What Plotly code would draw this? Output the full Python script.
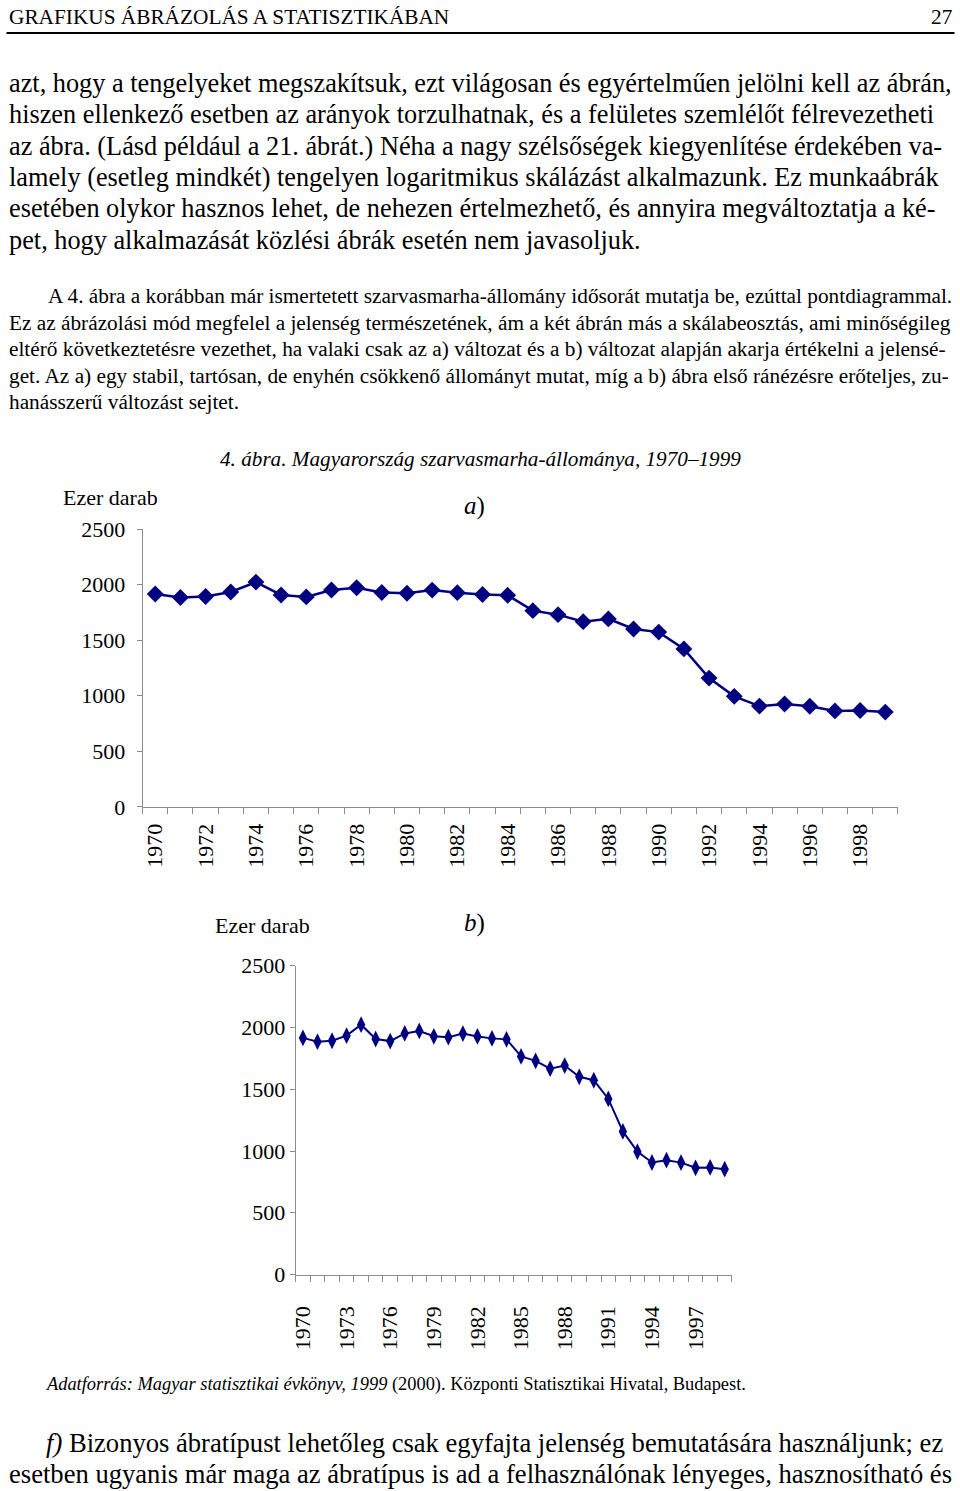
import plotly.graph_objects as go

W, H = 960, 1491

# ---------------- data ----------------
years = list(range(1970, 2000))
cattle = [1916, 1885, 1893, 1934, 2023, 1907, 1890, 1952, 1972, 1929,
          1922, 1951, 1928, 1912, 1904, 1766, 1730, 1667, 1692, 1601,
          1573, 1422, 1159, 995, 907, 926, 906, 864, 867, 853]
y_ticks = [0, 500, 1000, 1500, 2000, 2500]
x_labels_a = [str(y) for y in range(1970, 2000, 2)]
x_labels_b = [str(y) for y in range(1970, 2000, 3)]

header_left = "GRAFIKUS ÁBRÁZOLÁS A STATISZTIKÁBAN"
header_right = "27"
para1 = [
    "azt, hogy a tengelyeket megszakítsuk, ezt világosan és egyértelműen jelölni kell az ábrán,",
    "hiszen ellenkező esetben az arányok torzulhatnak, és a felületes szemlélőt félrevezetheti",
    "az ábra. (Lásd például a 21. ábrát.) Néha a nagy szélsőségek kiegyenlítése érdekében va-",
    "lamely (esetleg mindkét) tengelyen logaritmikus skálázást alkalmazunk. Ez munkaábrák",
    "esetében olykor hasznos lehet, de nehezen értelmezhető, és annyira megváltoztatja a ké-",
    "pet, hogy alkalmazását közlési ábrák esetén nem javasoljuk.",
]
para2 = [
    "A 4. ábra a korábban már ismertetett szarvasmarha-állomány idősorát mutatja be, ezúttal pontdiagrammal.",
    "Ez az ábrázolási mód megfelel a jelenség természetének, ám a két ábrán más a skálabeosztás, ami minőségileg",
    "eltérő következtetésre vezethet, ha valaki csak az a) változat és a b) változat alapján akarja értékelni a jelensé-",
    "get. Az a) egy stabil, tartósan, de enyhén csökkenő állományt mutat, míg a b) ábra első ránézésre erőteljes, zu-",
    "hanásszerű változást sejtet.",
]
fig_title = "<i>4. ábra. Magyarország szarvasmarha-állománya, 1970–1999</i>"
unit_label = "Ezer darab"
source_text = ("<i>Adatforrás: Magyar statisztikai évkönyv, 1999</i> (2000). "
               "Központi Statisztikai Hivatal, Budapest.")
para3 = [
    "<i>f)</i> Bizonyos ábratípust lehetőleg csak egyfajta jelenség bemutatására használjunk; ez",
    "esetben ugyanis már maga az ábratípus is ad a felhasználónak lényeges, hasznosítható és",
]

FONT = "Liberation Serif, Times New Roman, serif"
NAVY = "#000080"
GREY = "#8c8c8c"

# measured placement of the figure inside the photographed page
SY, OFF_Y = 0.984, 12.5
OFF_X = 2.5
ANN_X = 3.0


def px(x):
    return (x - OFF_X) / W


def py(y):
    return 1 - ((y - OFF_Y) / SY) / H


fig = go.Figure()

fig.add_trace(go.Scatter(
    x=years, y=cattle, mode="lines+markers", xaxis="x", yaxis="y",
    line=dict(color=NAVY, width=2.5),
    marker=dict(symbol="diamond", size=13, color=NAVY),
    showlegend=False, hoverinfo="skip"))
fig.add_trace(go.Scatter(
    x=years, y=cattle, mode="lines+markers", xaxis="x2", yaxis="y2",
    line=dict(color=NAVY, width=2),
    marker=dict(symbol="diamond-tall", size=12, color=NAVY),
    showlegend=False, hoverinfo="skip"))

bounds = [y - 0.5 for y in years] + [years[-1] + 0.5]

common_x = dict(
    range=[years[0] - 0.5, years[-1] + 0.5], showline=True, linecolor=GREY,
    linewidth=1, showgrid=False, zeroline=False, ticks="", tickangle=-90,
    tickfont=dict(family=FONT, size=22, color="black"),
    minor=dict(tickvals=bounds, ticks="outside", ticklen=6, tickcolor=GREY,
               tickwidth=1, showgrid=False),
)
common_y = dict(
    range=[0, 2500], showline=True, linecolor=GREY, linewidth=1,
    showgrid=False, zeroline=False, ticks="outside", ticklen=5,
    tickcolor=GREY, tickvals=y_ticks, ticktext=[str(v) for v in y_ticks],
    tickfont=dict(family=FONT, size=22, color="black"),
)

fig.update_layout(
    width=W, height=H, autosize=False,
    margin=dict(l=0, r=0, t=0, b=0),
    paper_bgcolor="white", plot_bgcolor="white",
    xaxis=dict(domain=[px(140), px(900)], anchor="y",
               tickvals=[int(t) for t in x_labels_a], ticktext=x_labels_a,
               ticklabelstandoff=7, **common_x),
    yaxis=dict(domain=[py(808), py(530)], anchor="x",
               ticklabelstandoff=7, **common_y),
    xaxis2=dict(domain=[px(294), px(733)], anchor="y2",
                tickvals=[int(t) for t in x_labels_b], ticktext=x_labels_b,
                ticklabelstandoff=22, **common_x),
    yaxis2=dict(domain=[py(1276), py(967)], anchor="x2",
                ticklabelstandoff=0, **common_y),
)

ann = []


def text(x, y, s, size, anchor="left"):
    shift = ANN_X if anchor == "left" else (-ANN_X if anchor == "right" else 0)
    ann.append(dict(x=px(x - shift), y=py(y), xref="paper", yref="paper",
                    text=s, showarrow=False, xanchor=anchor, yanchor="middle",
                    borderpad=0,
                    font=dict(family=FONT, size=size, color="black")))


text(8, 17.5, header_left, 21.3)
text(953, 17.5, header_right, 21.3, anchor="right")

for i, line in enumerate(para1):
    text(8, 84 + i * 31.4, line, 26.3)

for i, line in enumerate(para2):
    text(47 if i == 0 else 8, 297 + i * 26.5, line, 21.3)

text(220, 460, fig_title, 21.2)
text(62, 498, unit_label, 22)
text(474, 507, "<i>a</i>)", 25, anchor="center")
text(215, 927, unit_label, 22)
text(474, 924, "<i>b</i>)", 25, anchor="center")
text(45, 1386, source_text, 18.4)
text(45, 1445, para3[0], 26.6)
text(8, 1476, para3[1], 26.6)

fig.update_layout(annotations=ann)
fig.add_shape(type="line", xref="paper", yref="paper",
              x0=px(3), x1=px(957), y0=py(33.5), y1=py(33.5),
              line=dict(color="black", width=2))

page_css = ("document.body.style.margin='0';document.body.style.padding='0';"
            "document.body.style.overflow='hidden';"
            "document.documentElement.style.overflow='hidden';")
fig.write_html("out.html", post_script=page_css,
               config={"displayModeBar": False, "staticPlot": True})
